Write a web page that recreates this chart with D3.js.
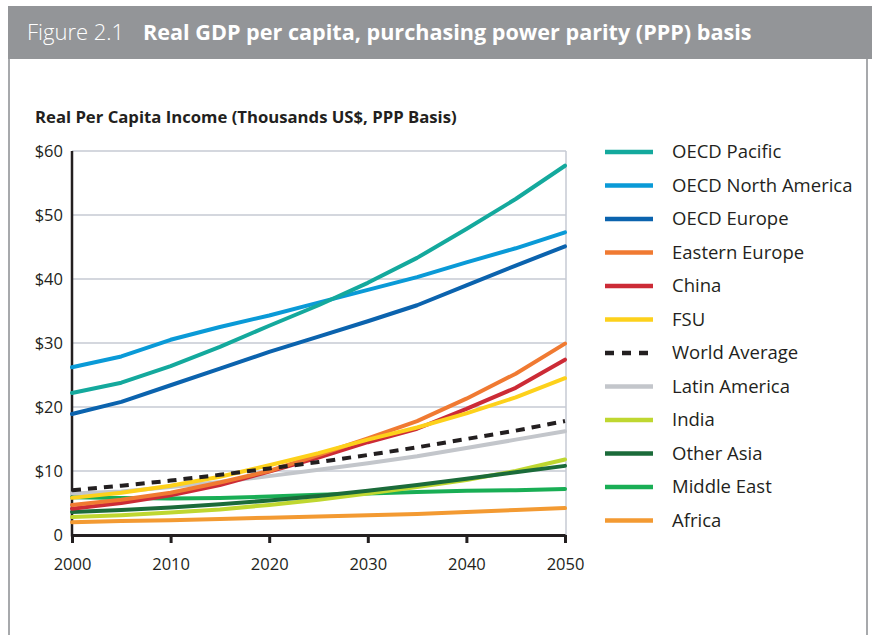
<!DOCTYPE html>
<html>
<head>
<meta charset="utf-8">
<script src="https://cdnjs.cloudflare.com/ajax/libs/d3/7.8.5/d3.min.js"></script>
<style>
  body { margin: 0; background: #fff; }
  svg text { font-family: "Open Sans", Lato, sans-serif; fill: #231f20; }
  .yAxis .domain { display: none; }
  .xAxis .domain, .xAxis .tick line { stroke: #231f20; stroke-width: 3; }
  .tick text { font-size: 16.5px; }
</style>
</head>
<body>
<div class="grafico"></div>
<script>
// Real GDP per capita, PPP basis
var anyos = [2000, 2005, 2010, 2015, 2020, 2025, 2030, 2035, 2040, 2045, 2050];

var regiones = ["OECD Pacific", "OECD North America", "OECD Europe", "Eastern Europe", "China", "FSU",
    "World Average", "Latin America", "India", "Other Asia", "Middle East", "Africa"];

var colores = ["#14a99d", "#0a9ad7", "#0b63ae", "#f07a32", "#cc2b36", "#fdd11b",
    "#231f20", "#c3c6cb", "#bfd730", "#1b6b3a", "#19ae55", "#f39a32"];

var oecdPacific   = [22.2, 23.8, 26.4, 29.4, 32.7, 35.9, 39.4, 43.3, 47.8, 52.5, 57.7];
var oecdNorteam   = [26.2, 27.9, 30.5, 32.5, 34.3, 36.3, 38.3, 40.3, 42.6, 44.8, 47.3];
var oecdEuropa    = [18.9, 20.8, 23.4, 26.0, 28.6, 31.0, 33.4, 35.9, 39.0, 42.1, 45.1];
var europaEste    = [4.7, 5.5, 6.6, 8.2, 10.0, 12.5, 15.1, 17.8, 21.3, 25.2, 29.9];
var china         = [4.1, 5.0, 6.2, 7.8, 9.9, 12.1, 14.5, 16.6, 19.7, 23.0, 27.4];
var fsu           = [5.8, 6.6, 7.7, 9.1, 10.9, 12.8, 14.9, 16.8, 19.0, 21.5, 24.5];
var mundo         = [7.0, 7.7, 8.5, 9.4, 10.4, 11.4, 12.5, 13.7, 15.0, 16.3, 17.8];
var latinoamerica = [6.5, 6.8, 7.5, 8.3, 9.2, 10.2, 11.2, 12.3, 13.6, 14.9, 16.2];
var india         = [2.8, 3.1, 3.5, 4.0, 4.7, 5.5, 6.5, 7.5, 8.6, 10.0, 11.8];
var otraAsia      = [3.6, 3.9, 4.3, 4.8, 5.4, 6.1, 6.9, 7.8, 8.8, 9.8, 10.8];
var orienteMedio  = [5.9, 5.8, 5.7, 5.8, 6.0, 6.3, 6.5, 6.7, 6.9, 7.0, 7.2];
var africa        = [2.0, 2.2, 2.3, 2.5, 2.7, 2.9, 3.1, 3.3, 3.6, 3.9, 4.2];

var valores = [oecdPacific, oecdNorteam, oecdEuropa, europaEste, china, fsu,
    mundo, latinoamerica, india, otraAsia, orienteMedio, africa];

var ticksY = [0, 10, 20, 30, 40, 50, 60];
var ticksX = [2000, 2010, 2020, 2030, 2040, 2050];

// orden de dibujo (los de abajo primero)
var ordenDibujo = ["Africa", "Middle East", "India", "Other Asia", "Latin America", "China",
    "Eastern Europe", "FSU", "World Average", "OECD Europe", "OECD North America", "OECD Pacific"];

var datos = regiones.map(function(r, i) {
    return {
        region: r,
        color: colores[i],
        puntos: anyos.map(function(a, j) { return { anyo: a, valor: valores[i][j] }; })
    };
});

var width = 872, height = 635;

var svg = d3.select('.grafico')
    .append('svg')
    .attr("width", width)
    .attr("height", height);

// cabecera
svg.append("rect")
    .attr("x", 8).attr("y", 6)
    .attr("width", width).attr("height", 53)
    .attr("fill", "#939598");

svg.append("line")
    .attr("x1", 9).attr("x2", 9).attr("y1", 59).attr("y2", height)
    .attr("stroke", "#a7a9ac").attr("stroke-width", 2);

svg.append("line")
    .attr("x1", 867).attr("x2", 867).attr("y1", 59).attr("y2", height)
    .attr("stroke", "#a7a9ac").attr("stroke-width", 2);

var cab = svg.append("text")
    .attr("x", 27).attr("y", 40)
    .style("font-size", "22px");
cab.append("tspan").text("Figure 2.1").style("fill", "#fff").style("font-weight", 300);
cab.append("tspan").attr("x", 143).text("Real GDP per capita, purchasing power parity (PPP) basis")
    .style("fill", "#fff").style("font-weight", "bold").style("font-size", "21.6px");

svg.append("text")
    .attr("x", 35).attr("y", 123)
    .style("font-size", "16.7px")
    .style("font-weight", "bold")
    .text("Real Per Capita Income (Thousands US$, PPP Basis)");

var xRange = d3.scaleLinear().domain([2000, 2050]).range([72, 565]);
var yRange = d3.scaleLinear().domain([0, 60]).range([535, 151]);

// rejilla
svg.append("g")
    .selectAll("line")
    .data(ticksY.slice(1))
    .enter()
    .append("line")
    .attr("x1", 72).attr("x2", 566)
    .attr("y1", function(d) { return yRange(d); })
    .attr("y2", function(d) { return yRange(d); })
    .attr("stroke", "#c6cad3")
    .attr("stroke-width", 1.3);

svg.append("line")
    .attr("x1", 566).attr("x2", 566)
    .attr("y1", yRange(60)).attr("y2", yRange(0))
    .attr("stroke", "#c6cad3").attr("stroke-width", 1.5);

var yAxis = d3.axisLeft()
    .scale(yRange)
    .tickValues(ticksY)
    .tickSize(0)
    .tickPadding(9)
    .tickFormat(function(d) { return d === 0 ? "0" : "$" + d; });

svg.append("g")
    .attr("class", "yAxis")
    .attr("transform", "translate(72,0)")
    .call(yAxis);

svg.append("line")
    .attr("x1", 72).attr("x2", 72)
    .attr("y1", yRange(60)).attr("y2", yRange(0) + 1.5)
    .attr("stroke", "#231f20").attr("stroke-width", 2.5);

// lineas
var linea = d3.line()
    .x(function(d) { return xRange(d.anyo); })
    .y(function(d) { return yRange(d.valor); });

var ordenados = ordenDibujo.map(function(r) {
    return datos.filter(function(d) { return d.region === r; })[0];
});

svg.append("g")
    .selectAll("path")
    .data(ordenados)
    .enter()
    .append("path")
    .attr("fill", "none")
    .attr("stroke", function(d) { return d.color; })
    .attr("stroke-width", 4)
    .attr("stroke-linecap", function(d) { return d.region === "World Average" ? "butt" : "round"; })
    .attr("stroke-linejoin", "round")
    .attr("stroke-dasharray", function(d) { return d.region === "World Average" ? "9,7" : null; })
    .attr("d", function(d) { return linea(d.puntos); });

var xAxis = d3.axisBottom()
    .scale(xRange)
    .tickValues(ticksX)
    .tickFormat(d3.format("d"))
    .tickSize(8)
    .tickSizeOuter(0)
    .tickPadding(15);

svg.append("g")
    .attr("class", "xAxis")
    .attr("transform", "translate(0,535)")
    .call(xAxis);

// leyenda
var leyenda = svg.append("g")
    .selectAll("g")
    .data(datos)
    .enter()
    .append("g")
    .attr("transform", function(d, i) { return "translate(0," + (152 + i * 33.5) + ")"; });

leyenda.append("line")
    .attr("x1", 605).attr("x2", 653)
    .attr("stroke", function(d) { return d.color; })
    .attr("stroke-width", 4.5)
    .attr("stroke-dasharray", function(d) { return d.region === "World Average" ? "9,8" : null; });

leyenda.append("text")
    .attr("x", 672)
    .attr("dy", "0.35em")
    .style("font-size", "18.5px")
    .text(function(d) { return d.region; });
</script>
</body>
</html>
